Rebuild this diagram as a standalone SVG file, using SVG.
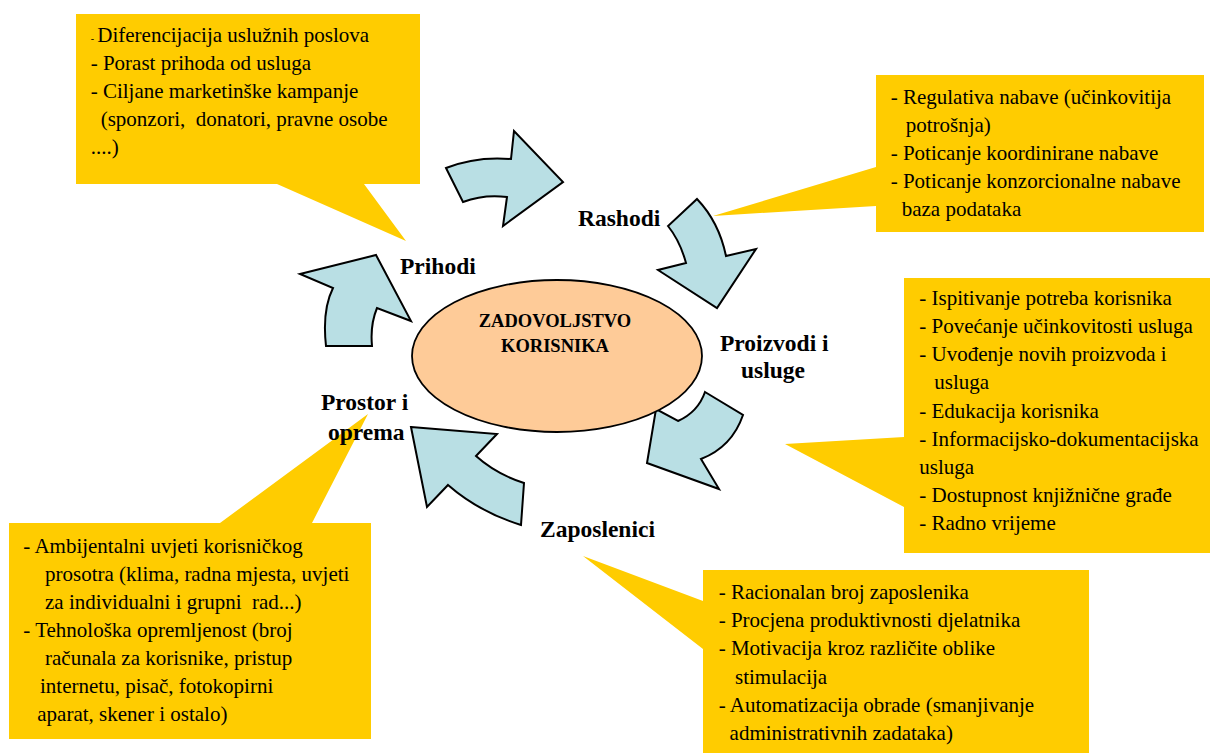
<svg xmlns="http://www.w3.org/2000/svg" width="1211" height="753" viewBox="0 0 1211 753">
<style>
.call{fill:#FFCC00;stroke:none}
.t{font-family:"Liberation Serif","Times New Roman",serif;font-size:21px;fill:#000}
.lbl{font-family:"Liberation Serif","Times New Roman",serif;font-size:23.5px;font-weight:bold;fill:#000}
.ctr{font-family:"Liberation Serif","Times New Roman",serif;font-size:18.5px;font-weight:bold;fill:#000;text-anchor:middle}
.arr{fill:#B9DFE4;stroke:#000;stroke-width:2;stroke-linejoin:miter}
</style>
<rect width="1211" height="753" fill="#fff"/>

<g id="node-prihodi">
<path class="call" d="M76,14 H420 V184 H364 L406,241 L277,184 H76 Z"/>
<text class="t" x="90.7" y="42"><tspan font-size="10">-</tspan><tspan x="97.3">Diferencijacija uslužnih poslova</tspan></text>
<text class="t" x="90.7" y="70">- Porast prihoda od usluga</text>
<text class="t" x="90.7" y="98">- Ciljane marketinške kampanje</text>
<text class="t" x="100.7" y="126" xml:space="preserve">(sponzori,  donatori, pravne osobe</text>
<text class="t" x="90.7" y="154">....)</text>
<text class="lbl" x="400" y="274">Prihodi</text>
</g>

<g id="node-rashodi">
<path class="call" d="M876,75 H1204 V232 H876 V206 L713,216 L876,167 Z"/>
<text class="t" x="890.7" y="104">- Regulativa nabave (učinkovitija</text>
<text class="t" x="905.7" y="132">potrošnja)</text>
<text class="t" x="890.7" y="160">- Poticanje koordinirane nabave</text>
<text class="t" x="890.7" y="188">- Poticanje konzorcionalne nabave</text>
<text class="t" x="901.7" y="216">baza podataka</text>
<text class="lbl" x="578" y="226">Rashodi</text>
</g>

<g id="node-proizvodi">
<path class="call" d="M904,278 H1210 V553 H904 V507 L785,444 L904,437 Z"/>
<text class="t" x="919.3" y="305">- Ispitivanje potreba korisnika</text>
<text class="t" x="919.3" y="333">- Povećanje učinkovitosti usluga</text>
<text class="t" x="919.3" y="361">- Uvođenje novih proizvoda i</text>
<text class="t" x="934.3" y="389">usluga</text>
<text class="t" x="919.3" y="418">- Edukacija korisnika</text>
<text class="t" x="919.3" y="446">- Informacijsko-dokumentacijska</text>
<text class="t" x="919.3" y="474">usluga</text>
<text class="t" x="919.3" y="502">- Dostupnost knjižnične građe</text>
<text class="t" x="919.3" y="530">- Radno vrijeme</text>
<text class="lbl" x="720" y="351">Proizvodi i</text>
<text class="lbl" x="741" y="378">usluge</text>
</g>

<g id="node-prostor">
<path class="call" d="M9,523 H220 L368,414 L312,523 H371 V739 H9 Z"/>
<text class="t" x="23.3" y="553">- Ambijentalni uvjeti korisničkog</text>
<text class="t" x="45" y="581">prosotra (klima, radna mjesta, uvjeti</text>
<text class="t" x="45" y="609" xml:space="preserve">za individualni i grupni  rad...)</text>
<text class="t" x="23.3" y="637">- Tehnološka opremljenost (broj</text>
<text class="t" x="45" y="665">računala za korisnike, pristup</text>
<text class="t" x="40" y="693">internetu, pisač, fotokopirni</text>
<text class="t" x="37.3" y="721">aparat, skener i ostalo)</text>
<text class="lbl" x="321" y="410">Prostor i</text>
<text class="lbl" x="328" y="440">oprema</text>
</g>

<g id="node-zaposlenici">
<path class="call" d="M703,570 H1089 V753 H703 V649 L583,556 L703,601 Z"/>
<text class="t" x="718.7" y="599">- Racionalan broj zaposlenika</text>
<text class="t" x="718.7" y="627">- Procjena produktivnosti djelatnika</text>
<text class="t" x="718.7" y="655">- Motivacija kroz različite oblike</text>
<text class="t" x="735" y="684">stimulacija</text>
<text class="t" x="718.7" y="712">- Automatizacija obrade (smanjivanje</text>
<text class="t" x="729.6" y="740">administrativnih zadataka)</text>
<text class="lbl" x="540" y="537">Zaposlenici</text>
</g>

<g id="connectors">
<path class="arr" d="M446,168 Q476,156 511,159 L514,131 L563,182 L503,226 L507,197 Q484,194 463,202 Z"/>
<path class="arr" d="M697,199 Q719,222 726,256 L756,249 L717,308 L658,270 L686,263 Q680,241 668,226 Z"/>
<path class="arr" d="M705,392 L743,415 Q732,447 701,459 L719,489 L647,463 L656,409 L678,421 Q698,412 705,392 Z"/>
<path class="arr" d="M411,427 L497,434 L476,456 Q496,474 524,483 L521,525 Q479,512 448,485 L427,507 Z"/>
<path class="arr" d="M300,274 L376,255 L411,321 L377,308 Q370,325 372,346 L326,346 Q322,310 333,288 Z"/>
</g>

<g id="node-center">
<ellipse cx="557" cy="356" rx="145" ry="76" fill="#FECB98" stroke="#000" stroke-width="1.8"/>
<text class="ctr" x="555" y="327">ZADOVOLJSTVO</text>
<text class="ctr" x="555" y="352">KORISNIKA</text>
</g>
</svg>
